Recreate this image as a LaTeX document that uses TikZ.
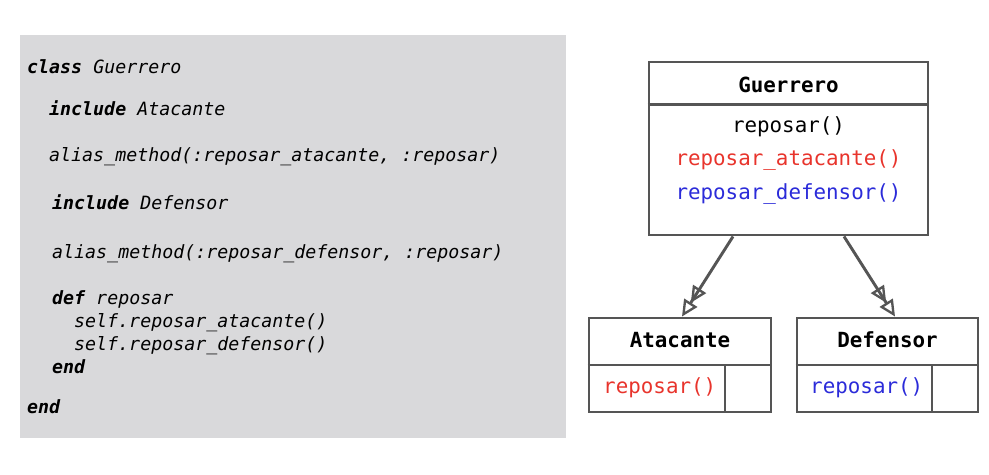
\documentclass[tikz,border=0pt]{standalone}
\usepackage{fontspec}
\setmonofont{DejaVu Sans Mono}
\usepackage{xcolor}
\usepackage{tikz}
\usetikzlibrary{arrows.meta,calc}

\definecolor{codebg}{HTML}{D9D9DB}
\definecolor{umlgray}{HTML}{555555}
\definecolor{atkred}{HTML}{E8342C}
\definecolor{defblue}{HTML}{2B2BD9}
\newcommand{\codefont}{\fontsize{15.6}{18}\selectfont\ttfamily\itshape}
\newcommand{\umlfont}{\fontsize{17.8}{21}\selectfont\ttfamily}

\begin{document}
\begin{tikzpicture}[x=0.03cm, y=-0.03cm,
  code/.style={anchor=base west, inner sep=0pt, font=\codefont},
  umlbox/.style={draw=umlgray, line width=2.5pt, inner sep=0pt},
  umlline/.style={draw=umlgray, line width=2.5pt},
  umltext/.style={anchor=base, inner sep=0pt, font=\umlfont},
  inherit/.style={draw=umlgray, line width=2.5pt,
    -{Triangle[open,length=14pt,width=13pt,line width=2pt]Triangle[open,length=14pt,width=13pt,line width=2pt]}}]
  \useasboundingbox (0,0) rectangle (989,474);

  % code panel
  \fill[codebg] (20,35) rectangle (566,438);
  \node[code] (l1) at (27,73) {\textbf{class} Guerrero};
  \node[code] (l2) at (49,115) {\textbf{include} Atacante};
  \node[code] (l3) at (49,161) {alias\_method(:reposar\_atacante, :reposar)};
  \node[code] (l4) at (52,209) {\textbf{include} Defensor};
  \node[code] (l5) at (52,258) {alias\_method(:reposar\_defensor, :reposar)};
  \node[code] (l6) at (52,304) {\textbf{def} reposar};
  \node[code] (l7) at (74,327) {self.reposar\_atacante()};
  \node[code] (l8) at (74,350) {self.reposar\_defensor()};
  \node[code] (l9) at (52,373) {\textbf{end}};
  \node[code] (l10) at (27,413) {\textbf{end}};

  % Guerrero
  \node[umlbox, minimum width=8.37cm, minimum height=5.19cm] (guerrero) at (788.5,148.5) {};
  \draw[umlline] ($(guerrero.north west)+(0,44)$) -- ($(guerrero.north east)+(0,44)$);
  \node[umltext, font=\umlfont\bfseries] (gname) at (788.5,92) {Guerrero};
  \node[umltext] (gm1) at (788.5,132) {reposar()};
  \node[umltext, text=atkred] (gm2) at (788.5,165) {reposar\_atacante()};
  \node[umltext, text=defblue] (gm3) at (788.5,199) {reposar\_defensor()};

  % Atacante
  \node[umlbox, minimum width=5.46cm, minimum height=2.82cm] (atacante) at (680,365) {};
  \draw[umlline] (atacante.west) -- (atacante.east);
  \draw[umlline] ($(atacante.center)+(45,0)$) -- ($(atacante.south)+(45,0)$);
  \node[umltext, font=\umlfont\bfseries] (aname) at (680,347) {Atacante};
  \node[umltext, anchor=base west, text=atkred] (am1) at (603,393) {reposar()};

  % Defensor
  \node[umlbox, minimum width=5.43cm, minimum height=2.82cm] (defensor) at (887.5,365) {};
  \draw[umlline] (defensor.west) -- (defensor.east);
  \draw[umlline] ($(defensor.center)+(44.5,0)$) -- ($(defensor.south)+(44.5,0)$);
  \node[umltext, font=\umlfont\bfseries] (dname) at (887.5,347) {Defensor};
  \node[umltext, anchor=base west, text=defblue] (dm1) at (810,393) {reposar()};

  \draw[inherit] ($(guerrero.south)+(-55.5,0)$) -- ($(atacante.north)+(2,0)$);
  \draw[inherit] ($(guerrero.south)+(55.5,0)$) -- ($(defensor.north)+(7.5,0)$);
\end{tikzpicture}
\end{document}
